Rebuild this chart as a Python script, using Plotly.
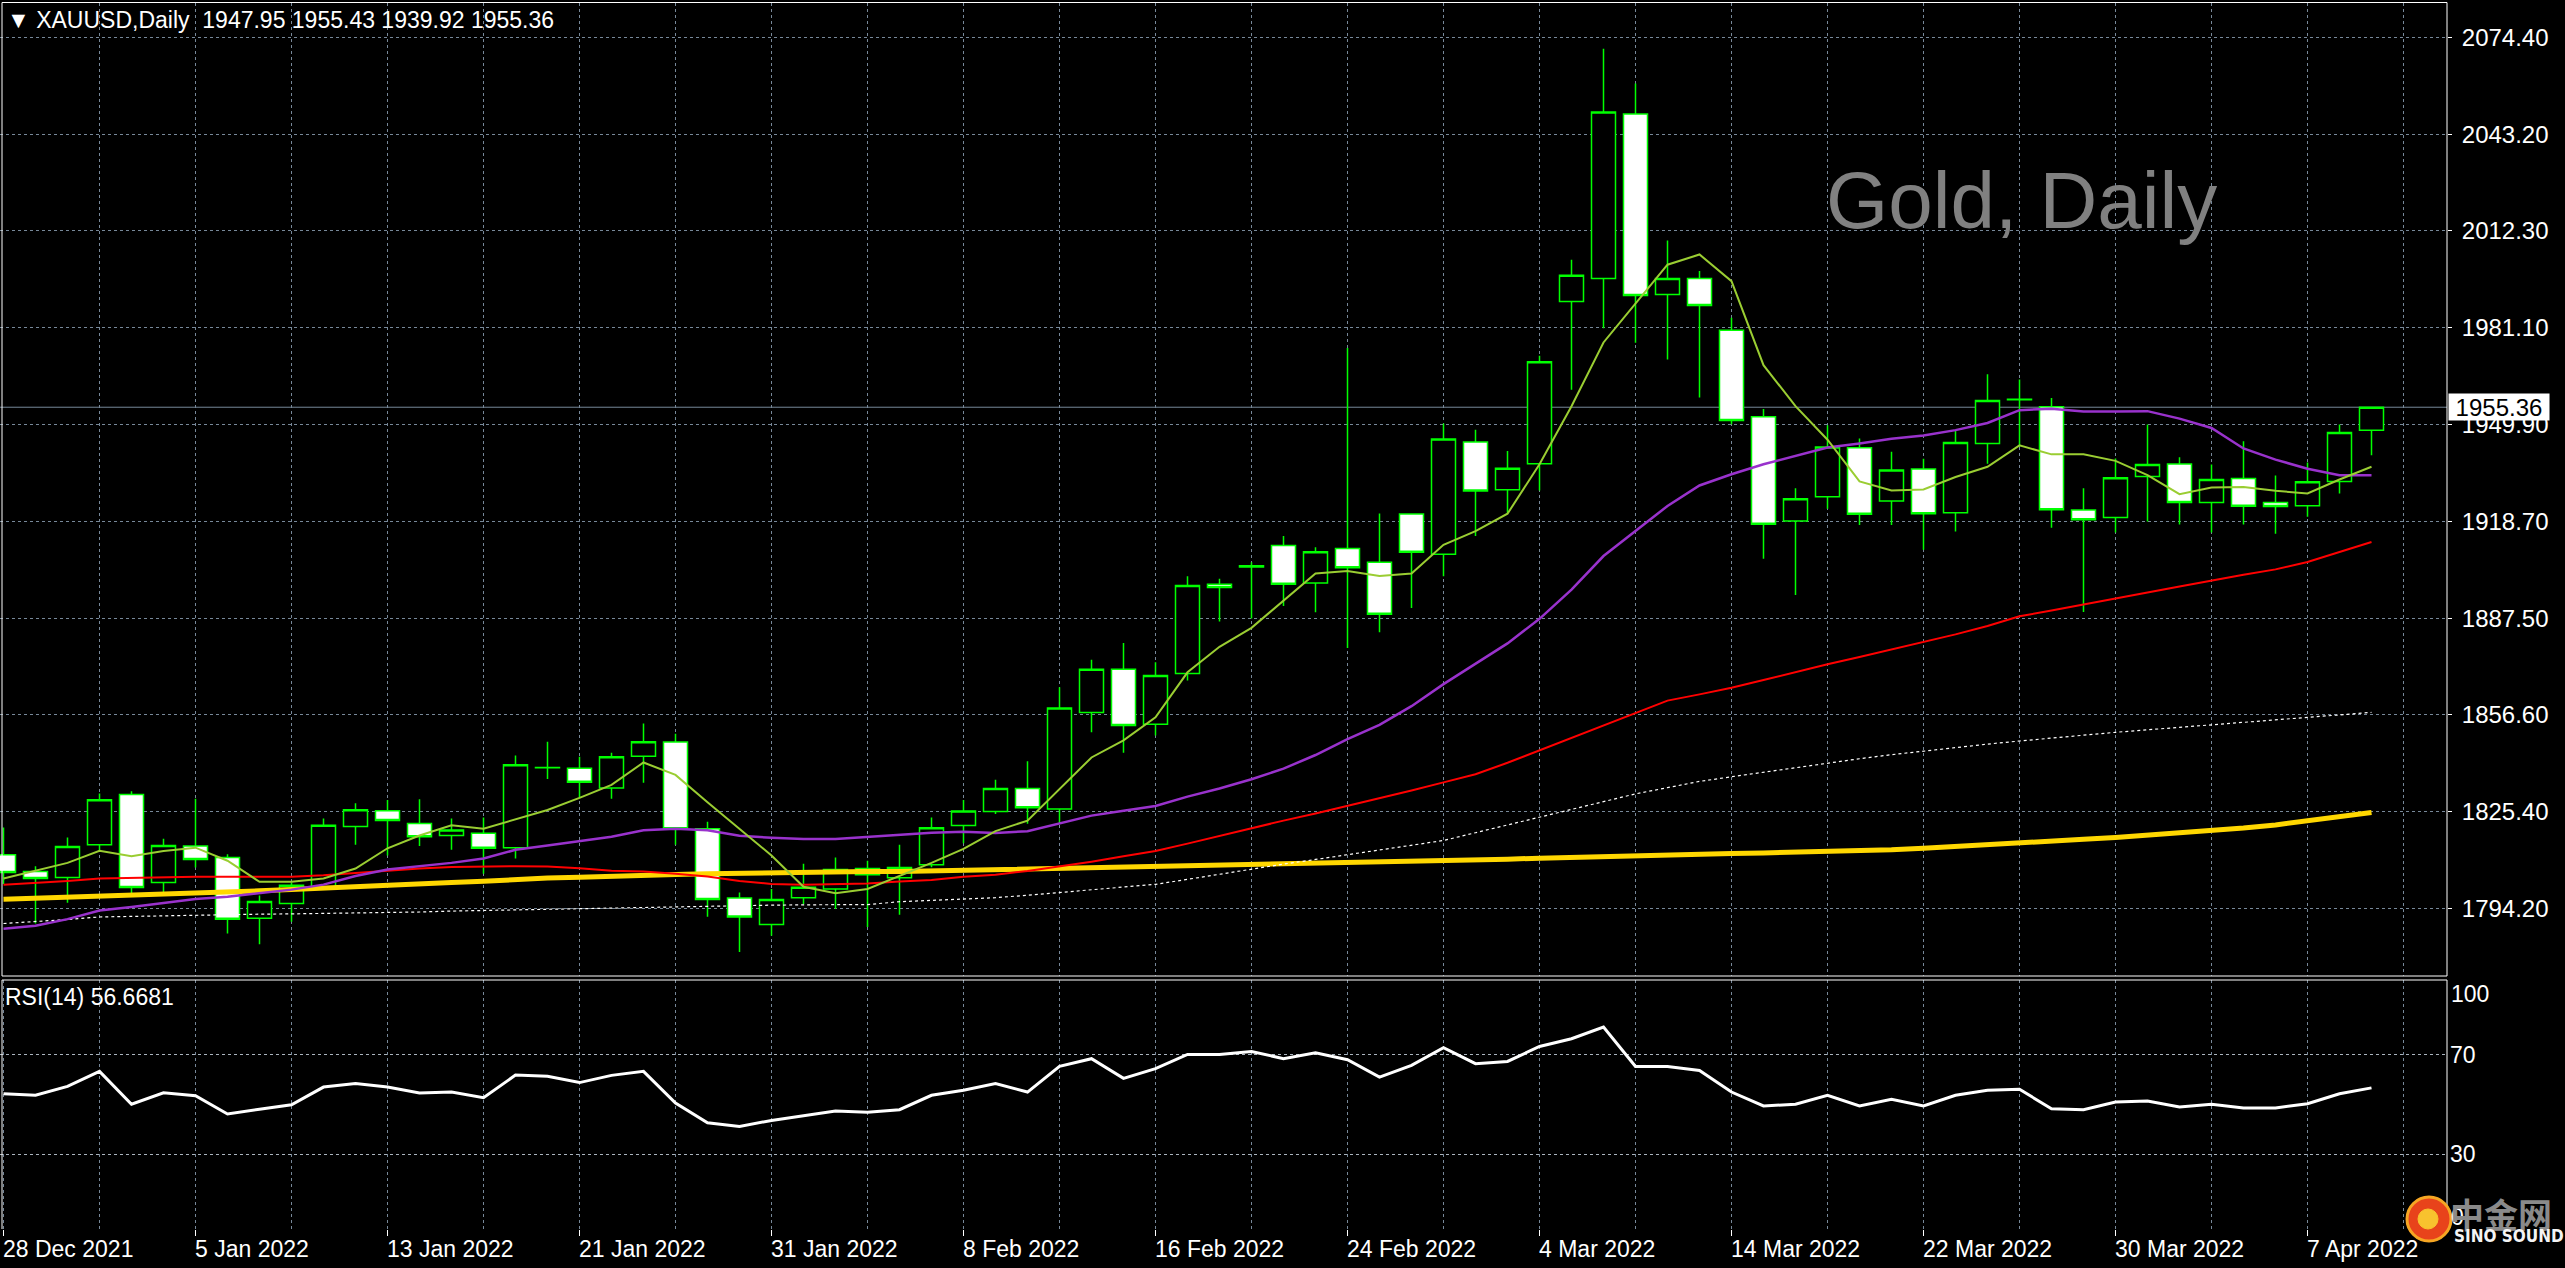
import plotly.graph_objects as go

# ---------------- data ----------------
opens = [1811.4, 1806.0, 1804.1, 1814.6, 1830.8, 1802.5, 1814.2, 1810.5, 1791.0, 1795.7,
         1800.4, 1820.5, 1825.6, 1821.5, 1817.6, 1818.3, 1813.7, 1839.5, 1839.2, 1832.9,
         1843.1, 1847.7, 1819.8, 1797.5, 1789.0, 1797.6, 1800.4, 1807.0, 1804.0, 1808.2,
         1820.8, 1825.3, 1832.7, 1826.1, 1857.2, 1871.1, 1853.4, 1869.7, 1898.4, 1904.0,
         1910.9, 1898.8, 1909.9, 1905.5, 1921.0, 1908.1, 1944.2, 1928.8, 1937.2, 1989.4,
         1996.8, 2049.7, 1991.6, 1996.8, 1980.1, 1952.3, 1918.8, 1926.6, 1942.3, 1925.2,
         1935.5, 1921.4, 1943.7, 1957.9, 1955.5, 1922.3, 1919.9, 1933.1, 1937.1, 1924.7,
         1932.4, 1924.7, 1923.7, 1931.5, 1947.95]
highs = [1820.2, 1807.7, 1817.0, 1831.1, 1831.8, 1816.6, 1829.4, 1811.6, 1798.3, 1802.5,
         1823.1, 1828.0, 1829.0, 1829.3, 1823.1, 1823.4, 1843.3, 1847.8, 1842.9, 1844.2,
         1853.6, 1850.3, 1822.0, 1799.3, 1800.4, 1808.5, 1810.5, 1809.5, 1814.6, 1823.4,
         1829.0, 1835.5, 1841.5, 1865.3, 1874.1, 1879.5, 1873.3, 1901.0, 1900.2, 1905.5,
         1913.9, 1910.3, 1974.4, 1921.2, 1921.2, 1950.1, 1948.1, 1941.3, 1971.9, 2002.8,
         2070.7, 2059.5, 2009.0, 1999.2, 1984.1, 1954.8, 1929.3, 1949.6, 1945.3, 1941.0,
         1938.8, 1948.0, 1966.0, 1964.3, 1958.3, 1929.3, 1938.9, 1949.8, 1939.3, 1936.9,
         1944.4, 1933.4, 1937.6, 1949.8, 1955.43]
lows = [1802.0, 1789.3, 1796.0, 1812.5, 1799.0, 1799.0, 1807.3, 1786.1, 1782.6, 1789.9,
        1800.2, 1814.6, 1811.2, 1814.2, 1813.0, 1805.3, 1810.2, 1835.8, 1829.7, 1829.4,
        1834.6, 1814.6, 1791.5, 1780.1, 1785.4, 1795.6, 1794.0, 1788.2, 1792.1, 1807.4,
        1815.1, 1824.5, 1821.4, 1821.4, 1850.8, 1844.2, 1849.8, 1867.5, 1886.4, 1887.4,
        1891.4, 1889.4, 1877.9, 1883.0, 1890.8, 1901.0, 1913.9, 1921.1, 1928.6, 1961.0,
        1980.8, 1976.1, 1970.7, 1958.5, 1949.9, 1906.6, 1895.0, 1922.7, 1917.5, 1917.5,
        1909.5, 1915.4, 1937.2, 1942.6, 1916.6, 1889.5, 1915.1, 1918.6, 1917.6, 1915.1,
        1917.6, 1914.7, 1920.1, 1927.6, 1939.92]
closes = [1805.7, 1803.8, 1814.1, 1829.1, 1800.9, 1814.4, 1809.9, 1790.7, 1796.4, 1801.6,
          1820.9, 1825.9, 1822.4, 1817.2, 1819.4, 1813.5, 1840.4, 1839.4, 1834.7, 1842.9,
          1847.8, 1819.8, 1797.0, 1791.4, 1797.0, 1801.0, 1806.7, 1805.0, 1807.3, 1820.1,
          1825.5, 1832.7, 1826.5, 1858.6, 1871.1, 1853.0, 1869.1, 1898.0, 1897.4, 1904.4,
          1898.4, 1908.9, 1903.7, 1888.8, 1908.7, 1945.1, 1928.4, 1935.7, 1970.0, 1997.8,
          2050.3, 1991.3, 1996.8, 1988.1, 1951.1, 1917.7, 1925.9, 1942.6, 1920.9, 1935.2,
          1921.1, 1944.0, 1957.5, 1957.8, 1922.4, 1919.2, 1932.7, 1936.9, 1924.7, 1932.1,
          1923.5, 1923.4, 1931.4, 1947.2, 1955.36]

ma_fast = [1803.8, 1806.3, 1808.8, 1812.7, 1810.9, 1812.6, 1813.7, 1809.5, 1802.7, 1802.7,
           1803.8, 1807.0, 1813.5, 1817.6, 1820.9, 1819.8, 1822.7, 1825.8, 1829.7, 1833.9,
           1841.1, 1837.1, 1828.3, 1819.9, 1811.2, 1801.1, 1799.0, 1800.4, 1804.6, 1808.8,
           1813.3, 1819.0, 1822.4, 1832.7, 1842.7, 1848.2, 1855.6, 1870.1, 1878.3, 1884.4,
           1893.0, 1901.9, 1902.7, 1901.1, 1901.9, 1911.1, 1915.5, 1921.1, 1937.0, 1955.7,
           1976.2, 1988.7, 2001.2, 2004.5, 1995.9, 1968.9, 1955.7, 1944.9, 1931.5, 1928.6,
           1928.9, 1932.9, 1936.2, 1943.1, 1940.2, 1940.2, 1938.1, 1933.5, 1927.4, 1929.5,
           1929.7, 1928.5, 1927.6, 1932.1, 1936.2]
ma_purple = [1787.6, 1788.6, 1790.7, 1793.5, 1794.6, 1796.0, 1797.2, 1797.9, 1799.0, 1800.2,
             1801.8, 1804.6, 1806.7, 1807.8, 1808.8, 1810.2, 1813.0, 1814.4, 1815.8, 1817.2,
             1819.3, 1819.8, 1819.3, 1817.5, 1816.9, 1816.5, 1816.5, 1817.2, 1817.9, 1818.5,
             1818.8, 1818.4, 1819.0, 1821.4, 1824.0, 1825.6, 1827.1, 1830.1, 1832.7, 1835.7,
             1839.1, 1843.5, 1848.6, 1853.2, 1859.2, 1866.3, 1872.9, 1879.4, 1887.3, 1896.7,
             1907.5, 1915.4, 1923.6, 1930.2, 1933.8, 1937.0, 1939.8, 1942.4, 1943.7, 1945.2,
             1946.3, 1948.0, 1950.3, 1954.4, 1954.9, 1954.0, 1954.0, 1954.1, 1951.7, 1948.7,
             1942.1, 1938.5, 1935.6, 1933.5, 1933.5]
ma_red = [1801.8, 1802.3, 1803.0, 1803.8, 1804.0, 1804.2, 1804.3, 1804.3, 1804.3, 1804.3,
          1804.8, 1805.6, 1806.3, 1807.0, 1807.5, 1807.7, 1807.7, 1807.6, 1807.1, 1806.3,
          1806.0, 1805.3, 1804.4, 1803.0, 1802.0, 1801.8, 1802.0, 1802.2, 1802.8, 1803.3,
          1804.3, 1805.0, 1806.2, 1807.6, 1809.2, 1810.9, 1812.6, 1815.0, 1817.5, 1820.0,
          1822.4, 1824.7, 1827.1, 1829.6, 1832.1, 1834.7, 1837.3, 1841.0, 1845.0, 1849.0,
          1853.0, 1857.0, 1861.0, 1863.0, 1865.1, 1867.6, 1870.2, 1872.7, 1875.0, 1877.4,
          1879.7, 1882.3, 1885.0, 1888.1, 1890.0, 1892.0, 1893.8, 1895.8, 1897.7, 1899.7,
          1901.5, 1903.2, 1905.6, 1908.8, 1912.0]
ma_white = [1789.3, 1789.9, 1790.6, 1791.4, 1791.6, 1791.9, 1792.1, 1792.2, 1792.3, 1792.4,
            1792.5, 1792.7, 1792.8, 1793.0, 1793.3, 1793.5, 1793.8, 1794.0, 1794.2, 1794.3,
            1794.5, 1794.7, 1794.9, 1795.0, 1795.2, 1795.3, 1795.4, 1795.4, 1796.3, 1796.8,
            1797.2, 1797.6, 1798.4, 1799.3, 1800.1, 1801.0, 1801.9, 1803.5, 1805.2, 1806.9,
            1808.4, 1809.9, 1811.4, 1812.9, 1814.5, 1816.0, 1818.5, 1821.0, 1823.5, 1826.0,
            1828.5, 1831.0, 1833.0, 1835.0, 1836.5, 1838.0, 1839.5, 1841.0, 1842.3, 1843.6,
            1844.8, 1846.0, 1847.0, 1848.0, 1849.0, 1850.0, 1850.8, 1851.6, 1852.4, 1853.2,
            1854.0, 1854.8, 1855.6, 1856.4, 1857.2]
ma_gold = [1797.1, 1797.4, 1797.6, 1797.9, 1798.3, 1798.6, 1799.0, 1799.4, 1799.8, 1800.2,
           1800.7, 1801.3, 1801.8, 1802.2, 1802.5, 1802.9, 1803.5, 1803.9, 1804.2, 1804.6,
           1804.9, 1805.1, 1805.3, 1805.5, 1805.7, 1805.8, 1805.9, 1806.0, 1806.0, 1806.2,
           1806.3, 1806.5, 1806.7, 1806.8, 1807.0, 1807.2, 1807.4, 1807.6, 1807.9, 1808.2,
           1808.4, 1808.6, 1808.8, 1809.0, 1809.2, 1809.4, 1809.7, 1810.0, 1810.3, 1810.6,
           1810.9, 1811.2, 1811.4, 1811.6, 1811.8, 1812.0, 1812.2, 1812.4, 1812.6, 1813.0,
           1813.5, 1814.0, 1814.6, 1815.2, 1815.8, 1816.4, 1817.0, 1817.7, 1818.4, 1819.2,
           1820.0, 1821.0, 1822.2, 1823.6, 1825.0]
rsi = [54.3, 53.7, 57.3, 63.3, 50.1, 54.7, 53.5, 46.2, 48.1, 49.9,
       57.0, 58.4, 57.0, 54.6, 55.0, 52.7, 61.8, 61.3, 58.8, 61.7,
       63.3, 50.6, 42.7, 41.2, 43.6, 45.4, 47.4, 46.9, 47.9, 53.7,
       55.7, 58.4, 55.0, 65.3, 68.4, 60.5, 64.4, 70.1, 70.1, 71.3,
       68.4, 70.8, 68.0, 61.0, 65.7, 72.8, 66.4, 67.3, 73.3, 76.4,
       81.1, 65.3, 65.3, 63.7, 55.0, 49.4, 50.1, 53.7, 49.4, 52.1,
       49.4, 53.7, 55.7, 56.1, 48.3, 47.9, 51.0, 51.4, 49.0, 50.1,
       48.6, 48.6, 50.3, 54.3, 56.67]
rsi_last_text = "56.6681"

price_ticks = [2074.40, 2043.20, 2012.30, 1981.10, 1949.90, 1918.70, 1887.50, 1856.60, 1825.40, 1794.20]
rsi_levels = [0, 30, 70]
date_tick_bars = [0, 6, 12, 18, 24, 30, 36, 42, 48, 54, 60, 66, 72]
date_tick_labels = ["28 Dec 2021", "5 Jan 2022", "13 Jan 2022", "21 Jan 2022", "31 Jan 2022",
                    "8 Feb 2022", "16 Feb 2022", "24 Feb 2022", "4 Mar 2022", "14 Mar 2022",
                    "22 Mar 2022", "30 Mar 2022", "7 Apr 2022"]
bars = list(range(len(closes)))

# ---------------- layout geometry (pixels) ----------------
W, H = 2565, 1268
PLOT_R = 2447
MAIN_T, MAIN_B = 2.5, 976
RSI_T, RSI_B = 980, 1229
BAR_PX, BAR0_PX = 32.0, 3.5
PX_PER_USD, REF_P, REF_Y = 3.109, 1949.9, 424.2


def fx(px):
    return px / W


def fy(py):
    return 1 - py / H


x_range = [(0 - BAR0_PX) / BAR_PX, (PLOT_R - BAR0_PX) / BAR_PX]
y_top = REF_P + (REF_Y - MAIN_T) / PX_PER_USD
y_bot = REF_P - (MAIN_B - REF_Y) / PX_PER_USD

FONT = "Liberation Sans, Arial, sans-serif"
TXT = 23
GRID = "#778899"
GREEN = "#00FF00"

fig = go.Figure()

fig.add_trace(go.Candlestick(
    x=bars, open=opens, high=highs, low=lows, close=closes,
    increasing=dict(line=dict(color=GREEN, width=1.5), fillcolor="#000000"),
    decreasing=dict(line=dict(color=GREEN, width=1.5), fillcolor="#FFFFFF"),
    whiskerwidth=0, xaxis="x", yaxis="y", name="XAUUSD"))

for vals, color, width, dash in [
    (ma_gold, "#FFD700", 5, "solid"),
    (ma_white, "#FFFFFF", 1.2, "3px,3px"),
    (ma_red, "#FF0000", 2, "solid"),
    (ma_purple, "#9932CC", 2.5, "solid"),
    (ma_fast, "#9ACD32", 2, "solid"),
]:
    fig.add_trace(go.Scatter(x=bars, y=vals, mode="lines", xaxis="x", yaxis="y",
                             line=dict(color=color, width=width, dash=dash), hoverinfo="skip"))

fig.add_trace(go.Scatter(x=bars, y=rsi, mode="lines", xaxis="x2", yaxis="y2",
                         line=dict(color="#FFFFFF", width=3), hoverinfo="skip"))

grid_bars = list(range(3, 77, 3))

fig.update_layout(
    width=W, height=H, margin=dict(l=0, r=0, t=0, b=0),
    paper_bgcolor="#000000", plot_bgcolor="#000000", showlegend=False,
    boxgap=0.25, boxgroupgap=0,
    font=dict(family=FONT, size=TXT, color="#FFFFFF"),
    xaxis=dict(domain=[0, fx(PLOT_R)], range=x_range, anchor="y",
               rangeslider=dict(visible=False), showticklabels=False,
               tickmode="array", tickvals=grid_bars, ticks="",
               showgrid=True, gridcolor=GRID, griddash="3px,3px", gridwidth=1,
               zeroline=False, showline=False),
    xaxis2=dict(domain=[0, fx(PLOT_R)], range=x_range, anchor="y2", matches="x",
                showticklabels=False, tickmode="array", tickvals=date_tick_bars,
                ticks="outside", ticklen=6, tickcolor="#FFFFFF", tickwidth=1,
                showgrid=True, gridcolor=GRID, griddash="3px,3px", gridwidth=1,
                minor=dict(tickmode="array", tickvals=[b for b in grid_bars if b % 6],
                           showgrid=True, gridcolor=GRID, griddash="3px,3px", ticks=""),
                zeroline=False, showline=False),
    yaxis=dict(domain=[fy(MAIN_B), fy(MAIN_T)], range=[y_bot, y_top], anchor="x", side="right",
               tickmode="array", tickvals=price_ticks, ticktext=[f"{v:.2f}" for v in price_ticks],
               ticks="outside", ticklen=4, tickcolor="#FFFFFF", ticklabelstandoff=5,
               tickfont=dict(family=FONT, size=24, color="#FFFFFF"),
               showgrid=True, gridcolor=GRID, griddash="3px,3px", zeroline=False, showline=False),
    yaxis2=dict(domain=[fy(RSI_B), fy(RSI_T)], range=[0, 100], anchor="x2", side="right",
                tickmode="array", tickvals=rsi_levels,
                ticktext=["" if v in (0, 100) else str(v) for v in rsi_levels],
                ticks="", ticklabelstandoff=2,
                tickfont=dict(family=FONT, size=TXT, color="#FFFFFF"),
                showgrid=True, gridcolor="#AAB4BE", griddash="3px,3px", zeroline=False, showline=False),
)

shapes = [
    # main panel frame
    dict(type="rect", xref="paper", yref="paper", x0=fx(2), x1=fx(PLOT_R), y0=fy(MAIN_B), y1=fy(MAIN_T),
         line=dict(color="#FFFFFF", width=1), layer="above"),
    # RSI panel frame (top, left, right)
    dict(type="line", xref="paper", yref="paper", x0=fx(2), x1=fx(PLOT_R), y0=fy(RSI_T), y1=fy(RSI_T),
         line=dict(color="#FFFFFF", width=1), layer="above"),
    dict(type="line", xref="paper", yref="paper", x0=fx(2), x1=fx(2), y0=fy(RSI_B), y1=fy(RSI_T),
         line=dict(color="#FFFFFF", width=1), layer="above"),
    dict(type="line", xref="paper", yref="paper", x0=fx(PLOT_R), x1=fx(PLOT_R), y0=fy(RSI_B), y1=fy(RSI_T),
         line=dict(color="#FFFFFF", width=1), layer="above"),
    # current price line
    dict(type="line", xref="x domain", yref="y", x0=0, x1=1, y0=closes[-1], y1=closes[-1],
         line=dict(color=GRID, width=1), layer="below"),
    # watermark logo disc
    dict(type="circle", xref="paper", yref="paper", x0=fx(2407), x1=fx(2451), y0=fy(1241), y1=fy(1197),
         fillcolor="#E8431B", line=dict(color="#F6A623", width=3), layer="above"),
    dict(type="circle", xref="paper", yref="paper", x0=fx(2418), x1=fx(2438), y0=fy(1229), y1=fy(1209),
         fillcolor="#F8C22E", line=dict(color="#F8C22E", width=1), layer="above"),
]
fig.update_layout(shapes=shapes)

ann = []
title = "\u25BC XAUUSD,Daily\u00a0\u00a0{:.2f} {:.2f} {:.2f} {:.2f}".format(opens[-1], highs[-1], lows[-1], closes[-1])
ann.append(dict(text=title, xref="paper", yref="paper", x=fx(5), y=fy(20), xanchor="left", yanchor="middle",
                showarrow=False, font=dict(family=FONT, size=TXT, color="#FFFFFF")))
ann.append(dict(text="Gold, Daily", xref="paper", yref="paper", x=fx(1824), y=fy(200), xanchor="left",
                yanchor="middle", showarrow=False, font=dict(family=FONT, size=80, color="#808080")))
ann.append(dict(text="RSI(14) " + rsi_last_text, xref="paper", yref="paper", x=fx(3), y=fy(997),
                xanchor="left", yanchor="middle", showarrow=False, font=dict(family=FONT, size=TXT, color="#FFFFFF")))
for b, lab in zip(date_tick_bars, date_tick_labels):
    ann.append(dict(text=lab, xref="x2", yref="paper", x=b, y=fy(1249), xanchor="left", yanchor="middle",
                    xshift=-3, showarrow=False, font=dict(family=FONT, size=TXT, color="#FFFFFF")))
ann.append(dict(text="100", xref="paper", yref="paper", x=fx(2449), y=fy(994), xanchor="left", yanchor="middle",
                showarrow=False, font=dict(family=FONT, size=TXT, color="#FFFFFF")))
ann.append(dict(text="0", xref="paper", yref="paper", x=fx(2449), y=fy(1217), xanchor="left", yanchor="middle",
                showarrow=False, font=dict(family=FONT, size=TXT, color="#FFFFFF")))
# current price tag
ann.append(dict(text=f"{closes[-1]:.2f}", xref="paper", yref="y", x=fx(2448), y=closes[-1],
                xanchor="left", yanchor="middle", showarrow=False, bgcolor="#FFFFFF",
                width=98, height=24, borderpad=1, align="center",
                font=dict(family=FONT, size=24, color="#000000")))
# watermark text
ann.append(dict(text="<b>中金网</b>", xref="paper", yref="paper", x=fx(2448), y=fy(1213), xanchor="left",
                yanchor="middle", showarrow=False,
                font=dict(family="Noto Sans CJK SC, sans-serif", size=34, color="#8A8A8A")))
ann.append(dict(text="<b>SINO SOUND</b>", xref="paper", yref="paper", x=fx(2452), y=fy(1236), xanchor="left",
                yanchor="middle", showarrow=False,
                font=dict(family="DejaVu Sans Condensed, DejaVu Sans, sans-serif", size=17, color="#F4F4F4")))
fig.update_layout(annotations=ann)

fig.write_html("out.html", config={"displayModeBar": False},
               post_script="document.body.style.margin='0px';document.body.style.overflow='hidden';")
